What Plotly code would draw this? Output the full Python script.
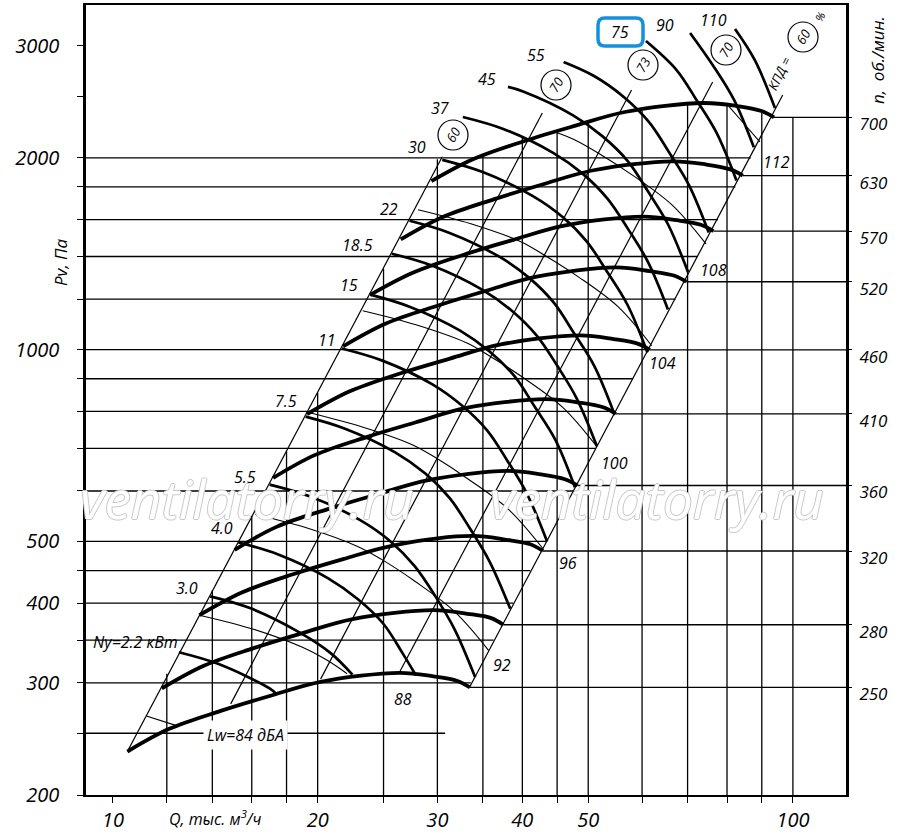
import math
import plotly.graph_objects as go

# rpm curves (Q in thousand m3/h, Pv in Pa)
speed_n = [250, 280, 320, 360, 410, 460, 520, 570, 630, 700]
speed_q = [
    [10.5, 12.1, 14.4, 17.0, 20.2, 26.4, 29.6, 32.1, 33.5],
    [11.8, 13.6, 16.1, 19.0, 22.6, 29.6, 33.2, 36.0, 37.5],
    [13.4, 15.5, 18.4, 21.8, 25.9, 33.8, 37.9, 41.1, 42.9],
    [15.1, 17.4, 20.7, 24.5, 29.1, 38.0, 42.6, 46.2, 48.2],
    [17.2, 19.8, 23.6, 27.9, 33.1, 43.3, 48.5, 52.6, 54.9],
    [19.3, 22.3, 26.5, 31.3, 37.2, 48.6, 54.5, 59.1, 61.6],
    [21.8, 25.2, 30.0, 35.4, 42.0, 54.9, 61.6, 66.8, 69.7],
    [23.9, 27.6, 32.8, 38.8, 46.1, 60.2, 67.5, 73.2, 76.4],
    [26.5, 30.5, 36.3, 42.8, 50.9, 66.5, 74.6, 80.9, 84.4],
    [29.4, 33.9, 40.3, 47.6, 56.6, 73.9, 82.9, 89.9, 93.8],
]
speed_p = [
    [234, 254, 271, 286, 301, 311, 307, 302, 295],
    [294, 319, 340, 359, 378, 390, 385, 379, 370],
    [383, 416, 444, 469, 493, 510, 503, 495, 483],
    [485, 527, 562, 593, 624, 645, 637, 626, 612],
    [629, 683, 729, 769, 810, 836, 826, 812, 793],
    [792, 860, 918, 968, 1019, 1053, 1039, 1022, 999],
    [1012, 1099, 1172, 1237, 1302, 1346, 1328, 1307, 1278],
    [1219, 1320, 1409, 1487, 1565, 1617, 1596, 1570, 1535],
    [1489, 1613, 1721, 1816, 1912, 1975, 1952, 1918, 1875],
    [1838, 1991, 2125, 2242, 2360, 2438, 2411, 2368, 2315],
]

# shaft power curves, kW
power_labels = ["2.2", "3.0", "4.0", "5.5", "7.5", "11", "15", "18.5",
                "22", "30", "37", "45", "55", "75", "90", "110"]
power_q = [
    [12.5, 14.3, 17.0, 17.4],
    [13.9, 15.9, 18.8, 20.9, 22.5],
    [15.3, 17.5, 20.7, 22.9, 25.0, 26.7, 27.9],
    [17.0, 19.5, 23.1, 25.6, 27.8, 29.8, 31.8, 34.1],
    [19.2, 21.9, 26.0, 28.8, 31.3, 33.5, 35.8, 38.4],
    [21.7, 24.9, 29.5, 32.6, 35.5, 38.0, 40.6, 43.5],
    [23.9, 27.3, 32.4, 35.8, 39.0, 41.7, 44.7, 47.8],
    [25.7, 29.5, 34.9, 38.6, 42.0, 45.0, 48.1, 51.5],
    [27.3, 31.2, 37.0, 40.9, 44.5, 47.6, 51.0, 54.6],
    [30.5, 34.9, 41.4, 45.8, 49.8, 53.3, 57.1, 61.1],
    [32.7, 37.5, 44.4, 49.1, 53.4, 57.2, 61.2, 65.5],
    [38.1, 40.1, 47.5, 52.5, 57.2, 61.2, 65.5, 70.1],
    [46.0, 51.0, 56.4, 61.4, 65.7, 70.3, 75.2],
    [60.8, 67.4, 72.1, 77.2, 82.6],
    [70.6, 76.5, 81.9, 87.6],
    [82.2, 87.9, 94.1],
]
power_p = [
    [335, 321, 294, 288],
    [410, 393, 360, 334, 309],
    [498, 477, 438, 406, 371, 333, 308],
    [614, 588, 540, 500, 457, 410, 364, 306],
    [785, 752, 690, 639, 584, 524, 465, 392],
    [1004, 961, 882, 817, 747, 670, 595, 500],
    [1220, 1168, 1071, 993, 907, 814, 723, 608],
    [1414, 1354, 1242, 1151, 1052, 944, 838, 705],
    [1593, 1526, 1399, 1297, 1185, 1063, 944, 794],
    [1985, 1901, 1743, 1616, 1476, 1325, 1176, 990],
    [2318, 2220, 2036, 1887, 1724, 1547, 1373, 1156],
    [2584, 2542, 2332, 2161, 1975, 1772, 1573, 1324],
    [2828, 2688, 2492, 2277, 2043, 1814, 1527],
    [3050, 2749, 2467, 2190, 1843],
    [3140, 2780, 2467, 2077],
    [3185, 2846, 2395],
]

# sound power level curves, dBA
noise_labels = [84, 88, 92, 96, 100, 104, 108, 112]
noise_q = [
    [11.2, 12.4],
    [13.4, 16.1, 19.0, 20.6, 22.1],
    [16.2, 19.4, 22.9, 24.8, 27.8, 31.8, 35.7],
    [19.4, 23.2, 27.5, 29.8, 33.4, 38.2, 42.9],
    [23.3, 27.9, 33.1, 35.7, 40.1, 45.9, 51.5],
    [28.1, 33.6, 39.8, 43.0, 48.3, 55.3, 62.0],
    [44.7, 47.8, 51.7, 58.0, 66.4, 74.5],
    [80.5, 84.7, 89.4],
]
noise_p = [
    [266, 257],
    [383, 364, 341, 326, 310],
    [551, 524, 491, 469, 433, 388, 337],
    [797, 757, 710, 677, 625, 561, 487],
    [1151, 1094, 1025, 979, 904, 811, 704],
    [1658, 1576, 1477, 1409, 1302, 1168, 1014],
    [2195, 2133, 2035, 1880, 1687, 1465],
    [2409, 2264, 2118],
]

# efficiency lines, %
eff_labels = ["60", "70", "73", "70", "60"]
eff_q = [[10.5, 30.5], [14.9, 42.8], [20.2, 57.9], [26.4, 76.2], [33.5, 96.6]]
eff_p = [[234, 2007], [278, 2352], [304, 2556], [312, 2630], [296, 2509]]

# grid
grid_q = [12, 14, 16, 18, 20, 25, 30, 35, 40, 45, 50, 60, 70, 80, 90, 100]
grid_q_top = [310, 419, 548, 693, 856, 1338, 1990, 2020, 2150, 2210, 2280,
              2370, 2420, 2420, 2360, 2310]
grid_p = [250, 300, 350, 400, 450, 500, 600, 700, 800, 900, 1000, 1200,
          1400, 1600, 1800, 2000]
grid_p_end = [30.8, 33.6, 36.3, 38.8, 41.1, 43.4, 47.5, 51.3, 54.8, 58.2,
              61.3, 67.2, 72.5, 77.6, 82.3, 86.7]

x_ticks = [10, 12, 14, 16, 18, 20, 25, 30, 35, 40, 45, 50, 60, 70, 80, 90, 100]
x_labels = ["10", "", "", "", "", "20", "", "30", "", "40", "", "50",
            "", "", "", "", "100"]
y_ticks = [200, 250, 300, 350, 400, 450, 500, 600, 700, 800, 900, 1000,
           1200, 1400, 1600, 1800, 2000, 2500, 3000]
y_labels = ["200", "", "300", "", "400", "", "500", "", "", "", "", "1000",
            "", "", "", "", "2000", "", "3000"]

Q_MIN, Q_MAX = 9.127, 119.7
P_MIN, P_MAX = 200, 3474

FONT = "Open Sans"
fig = go.Figure()


def line(q, p, width, spline=False):
    fig.add_trace(go.Scatter(
        x=q, y=p, mode="lines",
        line=dict(color="black", width=width,
                  shape="spline" if spline else "linear", smoothing=1.0),
        showlegend=False, hoverinfo="skip"))


# grid lines
for q, top in zip(grid_q, grid_q_top):
    line([q, q], [P_MIN, top], 1.3)
for p, q_end in zip(grid_p, grid_p_end):
    line([Q_MIN, q_end], [p, p], 1.3)
# rpm reference lines to the right axis
for q, p in zip(speed_q, speed_p):
    line([q[-1], Q_MAX], [p[-1], p[-1]], 1.3)

# efficiency lines
for q, p in zip(eff_q, eff_p):
    line(q, p, 1.2)

# noise curves
for q, p in zip(noise_q, noise_p):
    line(q, p, 1.1, spline=True)

# power curves
for q, p in zip(power_q, power_p):
    line(q, p, 2.7, spline=True)

# rpm curves
for q, p in zip(speed_q, speed_p):
    line(q, p, 3.8, spline=True)

# right axis carrier
fig.add_trace(go.Scatter(x=[20], y=[1000], yaxis="y2", mode="markers",
                         marker=dict(opacity=0), showlegend=False,
                         hoverinfo="skip"))


# label helpers in pixel coordinates of the 900x834 page
def px(x):
    return (x - 86) / 760


def py(y):
    return (795 - y) / 790


def label(x, y, text, size=16, angle=0, **kw):
    fig.add_annotation(x=px(x), y=py(y), xref="paper", yref="paper",
                       xanchor="center", yanchor="middle",
                       text=text, showarrow=False, textangle=angle,
                       font=dict(family=FONT, size=size, color="black",
                                 style="italic"), **kw)


power_pos = [(135, 642), (187, 588), (222, 528), (245, 477), (286, 401),
             (327, 340), (349, 285), (357, 245), (389, 209), (417, 147),
             (440, 108), (487, 79), (536, 55), (620, 32), (665, 25),
             (713, 20)]
for (x, y), t in zip(power_pos, power_labels):
    label(x, y, "Ny=2.2 кВт" if t == "2.2" else t)

noise_pos = [(245, 735), (403, 699), (502, 665), (568, 563), (614, 463),
             (662, 363), (713, 270), (776, 162)]
for (x, y), t in zip(noise_pos, noise_labels):
    if t == 84:
        label(x, y, "Lw=84 дБА", bgcolor="white", borderpad=3)
    else:
        label(x, y, str(t))

# efficiency circles
eff_pos = [(453, 135), (556, 85), (643, 65), (726, 50), (803, 37)]
for (x, y), t in zip(eff_pos, eff_labels):
    fig.add_shape(type="circle", xref="paper", yref="paper",
                  x0=px(x - 15), x1=px(x + 15), y0=py(y + 15), y1=py(y - 15),
                  line=dict(color="black", width=1.2), fillcolor="white")
    label(x, y, t, size=13, angle=-60)
label(779, 74, "КПД =", size=13, angle=-64)
label(820, 17, "%", size=11, angle=-60)

# highlight box around 75
x0, x1, y0, y1, r = px(598), px(643), py(46), py(18), 7
rx, ry = r / 760, r / 790
path = (f"M {x0+rx},{y0} L {x1-rx},{y0} Q {x1},{y0} {x1},{y0+ry} "
        f"L {x1},{y1-ry} Q {x1},{y1} {x1-rx},{y1} L {x0+rx},{y1} "
        f"Q {x0},{y1} {x0},{y1-ry} L {x0},{y0+ry} Q {x0},{y0} {x0+rx},{y0} Z")
fig.add_shape(type="path", path=path, xref="paper", yref="paper",
              line=dict(color="#1590dc", width=3.5))

# axis titles
label(215, 818, "Q, тыс. м<sup>3</sup>/ч", size=16)
label(61, 262, "Pv, Па", size=17, angle=-90)
label(877, 60, "n,  об./мин.", size=17, angle=-90)

# watermark
for x in (247, 657):
    fig.add_annotation(x=px(x), y=py(498), xref="paper", yref="paper",
                       xanchor="center", yanchor="middle",
                       text="ventilatorry.ru", showarrow=False,
                       font=dict(family=FONT, size=53, color="white",
                                 style="italic",
                                 shadow="1px 0 #c8c8c8, -1px 0 #c8c8c8, "
                                        "0 1px #c8c8c8, 0 -1px #c8c8c8"))

axis_font = dict(family=FONT, size=20, color="black", style="italic")
fig.update_layout(
    template="none",
    width=900, height=834, autosize=False,
    margin=dict(l=86, r=54, t=5, b=39, autoexpand=False),
    paper_bgcolor="white", plot_bgcolor="white",
    xaxis=dict(type="log", range=[math.log10(Q_MIN), math.log10(Q_MAX)],
               automargin=False,
               showgrid=False, zeroline=False, showline=True, linewidth=2,
               linecolor="black", mirror=True, ticks="outside", ticklen=6,
               tickwidth=1.3, tickcolor="black", tickvals=x_ticks,
               ticktext=x_labels, tickfont=axis_font),
    yaxis=dict(type="log", range=[math.log10(P_MIN), math.log10(P_MAX)],
               automargin=False,
               showgrid=False, zeroline=False, showline=True, linewidth=2.5,
               linecolor="black", mirror=True, ticks="outside", ticklen=6,
               tickwidth=1.3, tickcolor="black", tickvals=y_ticks,
               ticktext=y_labels, tickfont=axis_font, ticklabelstandoff=14),
    yaxis2=dict(type="log", range=[math.log10(P_MIN), math.log10(P_MAX)],
                automargin=False,
                overlaying="y", side="right", showgrid=False, zeroline=False,
                showline=False, ticks="outside", ticklen=5, tickwidth=1.3,
                tickcolor="black", tickvals=[p[-1] for p in speed_p],
                ticktext=[str(n) for n in speed_n],
                tickfont=dict(family=FONT, size=17, color="black",
                              style="italic"),
                ticklabelshift=7, ticklabelstandoff=4),
)

# drop the default page margin so the figure sits at the window corner
fig.write_html("out.html", config={"displayModeBar": False},
               post_script="document.body.style.margin='0';")
